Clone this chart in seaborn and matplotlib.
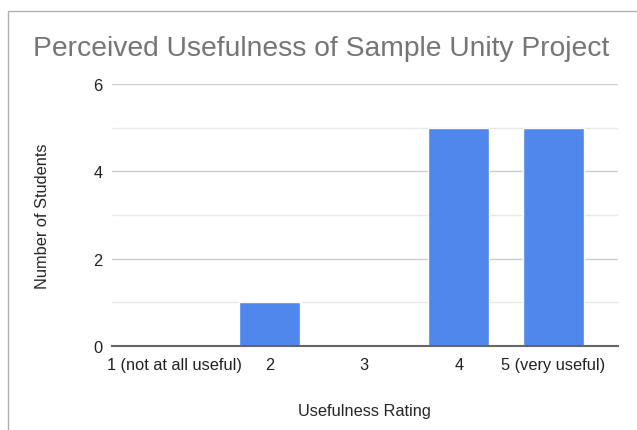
import matplotlib.pyplot as plt
import matplotlib.patches as patches
import pandas as pd
import seaborn as sns

# Survey responses
ratings = ['1 (not at all useful)', '2', '3', '4', '5 (very useful)']
students = [0, 1, 0, 5, 5]

df = pd.DataFrame({'Rating': ratings, 'Students': students})

sns.set_style('white')
plt.rcParams['font.family'] = ['Liberation Sans', 'DejaVu Sans']

fig = plt.figure(figsize=(6.37, 4.31), dpi=100)
ax = fig.add_axes([0.1758, 0.1949, 0.7942, 0.6079])

sns.barplot(x='Rating', y='Students', data=df, color='#5087EC',
            width=0.645, saturation=1, ax=ax)

ax.set_xlim(-0.665, 4.68)
ax.set_ylim(0, 6)
ax.set_yticks([0, 2, 4, 6])
ax.set_yticks([1, 3, 5], minor=True)
ax.grid(axis='y', which='major', color='#cccccc', linewidth=1)
ax.grid(axis='y', which='minor', color='#e8e8e8', linewidth=1)
ax.set_axisbelow(True)
for side in ['top', 'right', 'left']:
    ax.spines[side].set_visible(False)
ax.spines['bottom'].set_color('#666666')
ax.spines['bottom'].set_linewidth(1.5)
ax.tick_params(axis='both', which='both', length=0, labelsize=11.8, colors='#222222')
ax.tick_params(axis='y', pad=7)
ax.tick_params(axis='x', pad=8)

ax.set_xlabel('Usefulness Rating', fontsize=11.8, labelpad=22)
ax.set_ylabel('Number of Students', fontsize=11.8, labelpad=31)

fig.text(0.052, 0.887, 'Perceived Usefulness of Sample Unity Project',
         fontsize=20.3, color='#757575', ha='left', va='center')

# chart border like the spreadsheet frame
fig.patches.append(patches.Rectangle((8 / 637, -0.1), 1.2, 1 - 12 / 431 + 0.1,
                                     transform=fig.transFigure, fill=False,
                                     edgecolor='#b0b0b0', linewidth=1))

plt.savefig('out.png', dpi=100)
plt.close()
